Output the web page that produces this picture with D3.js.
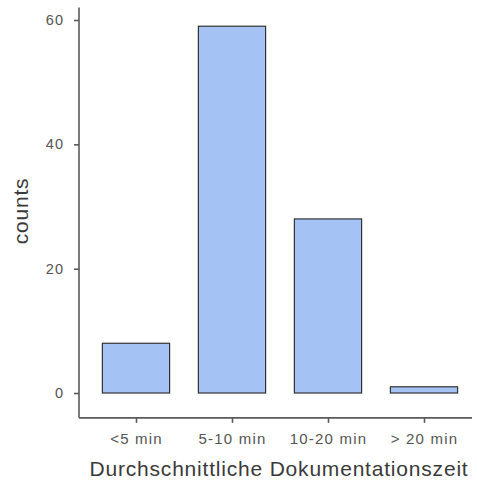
<!DOCTYPE html>
<html>
<head>
<meta charset="utf-8">
<script src="https://cdn.jsdelivr.net/npm/d3@7"></script>
<style>
  html, body { margin: 0; padding: 0; background: #fff; }
  svg { display: block; font-family: "Liberation Sans", Arial, sans-serif; }
</style>
</head>
<body>
<svg id="chart" width="477" height="481"></svg>
<script>
// Counts of average documentation time per category
const categories = ["<5 min", "5-10 min", "10-20 min", "> 20 min"];
const counts = [8, 59, 28, 1];
const yTicks = [0, 20, 40, 60];

const svg = d3.select("#chart");
const axisColor = "#5a5a5a";
const textColor = "#555";

const x = d3.scalePoint().domain(categories).range([88, 472]).padding(0.5);
const step = x.step();
const barWidth = step * 0.7;

const y = d3.scaleLinear().domain([0, 60]).range([393, 20]);

// axis lines (L-shaped frame)
svg.append("line")
  .attr("x1", 79).attr("x2", 79)
  .attr("y1", y(62)).attr("y2", y(-4))
  .attr("stroke", axisColor).attr("stroke-width", 1.6);
svg.append("line")
  .attr("x1", 79).attr("x2", 472)
  .attr("y1", y(-4)).attr("y2", y(-4))
  .attr("stroke", axisColor).attr("stroke-width", 1.6);

// bars
svg.append("g").selectAll("rect")
  .data(categories)
  .join("rect")
  .attr("x", (d) => x(d) - barWidth / 2)
  .attr("width", barWidth)
  .attr("y", (d, i) => y(counts[i]))
  .attr("height", (d, i) => y(0) - y(counts[i]))
  .attr("fill", "#a4c2f4")
  .attr("stroke", "#333")
  .attr("stroke-width", 1.2);

// y axis ticks and labels
const yAxis = svg.append("g").attr("transform", "translate(79,0)")
  .call(d3.axisLeft(y).tickValues(yTicks).tickSize(5).tickPadding(10).tickFormat(d3.format("d")));
yAxis.select(".domain").remove();
yAxis.selectAll(".tick line").attr("stroke", axisColor).attr("stroke-width", 1.6);
yAxis.selectAll(".tick text").attr("fill", textColor)
  .style("font-size", "14.5px").style("letter-spacing", "1px")
  .style("font-family", "Liberation Sans, Arial, sans-serif");

// x axis ticks and labels
const xAxis = svg.append("g").attr("transform", `translate(0,${y(-4)})`)
  .call(d3.axisBottom(x).tickSize(5).tickPadding(10));
xAxis.select(".domain").remove();
xAxis.selectAll(".tick line").attr("stroke", axisColor).attr("stroke-width", 1.6);
xAxis.selectAll(".tick text").attr("fill", textColor)
  .style("font-size", "15px").style("letter-spacing", "1.2px")
  .style("font-family", "Liberation Sans, Arial, sans-serif");

// axis titles
svg.append("text")
  .attr("transform", "translate(28,211) rotate(-90)")
  .attr("text-anchor", "middle")
  .attr("fill", "#3a3a3a")
  .style("font-size", "21px")
  .style("letter-spacing", "0.8px")
  .text("counts");

svg.append("text")
  .attr("x", 279).attr("y", 476)
  .attr("text-anchor", "middle")
  .attr("fill", "#3a3a3a")
  .style("font-size", "21px")
  .style("letter-spacing", "0.8px")
  .text("Durchschnittliche Dokumentationszeit");
</script>
</body>
</html>
